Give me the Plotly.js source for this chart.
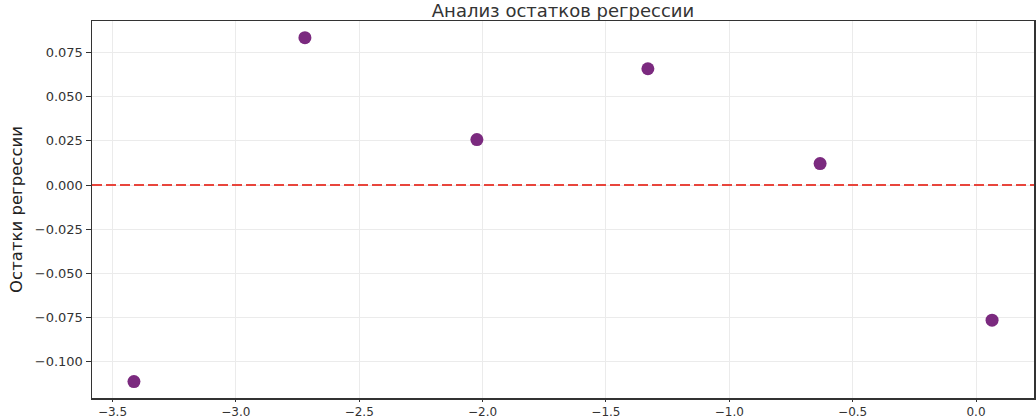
<!DOCTYPE html>
<html>
<head>
<meta charset="utf-8">
<script src="https://cdn.plot.ly/plotly-3.0.1.min.js"></script>
<style>
    html, body { margin: 0; padding: 0; background: #ffffff; }
    #residuals { width: 1036px; height: 418px; }
</style>
</head>
<body>
<div id="residuals"></div>
<script>
// predicted values (x) and regression residuals (y)
var predicted = [ -3.413, -2.720, -2.023, -1.330, -0.632, 0.065 ];
var residuals = [ -0.1111, 0.0833, 0.0257, 0.0657, 0.0121, -0.0764 ];

var x_ticks = [ -3.5, -3.0, -2.5, -2.0, -1.5, -1.0, -0.5, 0.0 ];
var x_tick_labels = [ '\u22123.5', '\u22123.0', '\u22122.5', '\u22122.0', '\u22121.5', '\u22121.0', '\u22120.5', '0.0' ];
var y_ticks = [ -0.100, -0.075, -0.050, -0.025, 0.000, 0.025, 0.050, 0.075 ];
var y_tick_labels = [ '\u22120.100', '\u22120.075', '\u22120.050', '\u22120.025', '0.000', '0.025', '0.050', '0.075' ];

var x_range = [ -3.583, 0.235 ];
var y_range = [ -0.1204, 0.0927 ];

var points =
{
    type: 'scatter',
    mode: 'markers',
    x: predicted,
    y: residuals,
    marker:
    {
        size: 13,
        color: '#7b2a7f',
        line: { width: 0 }
    },
    hoverinfo: 'x+y'
};

// zero line across the whole plot
var zero_line =
{
    type: 'scatter',
    mode: 'lines',
    x: x_range,
    y: [ 0, 0 ],
    line:
    {
        color: '#e8453c',
        width: 2,
        dash: '10px,4px'
    },
    hoverinfo: 'skip'
};

var data = [ points, zero_line ];

var layout =
{
    width: 1036,
    height: 418,
    showlegend: false,
    paper_bgcolor: '#ffffff',
    plot_bgcolor: '#ffffff',
    font: { family: 'DejaVu Sans', color: '#333333', size: 12 },
    margin: { l: 92, r: 2, t: 21, b: 20 },
    title:
    {
        text: 'Анализ остатков регрессии',
        font: { family: 'DejaVu Sans', size: 18, color: '#333333' },
        xref: 'paper',
        x: 0.5,
        xanchor: 'center',
        yref: 'container',
        y: 0.974,
        yanchor: 'middle'
    },
    xaxis:
    {
        range: x_range,
        autorange: false,
        tickmode: 'array',
        tickvals: x_ticks,
        ticktext: x_tick_labels,
        ticks: 'outside',
        ticklen: 2,
        tickcolor: '#333333',
        tickfont: { size: 12, color: '#333333' },
        showgrid: true,
        gridcolor: '#ebebeb',
        gridwidth: 1,
        zeroline: false,
        showline: true,
        linecolor: '#333333',
        linewidth: 1.5,
        mirror: true
    },
    yaxis:
    {
        range: y_range,
        autorange: false,
        tickmode: 'array',
        tickvals: y_ticks,
        ticktext: y_tick_labels,
        ticks: 'outside',
        ticklen: 5,
        tickcolor: '#333333',
        tickfont: { size: 13, color: '#333333' },
        showgrid: true,
        gridcolor: '#ebebeb',
        gridwidth: 1,
        zeroline: false,
        showline: true,
        linecolor: '#333333',
        linewidth: 1.5,
        mirror: true,
        title:
        {
            text: 'Остатки регрессии',
            font: { family: 'DejaVu Sans', size: 16.5, color: '#222222' },
            standoff: 8
        }
    }
};

var config = { responsive: false, displayModeBar: false, staticPlot: true };

Plotly.newPlot( 'residuals', data, layout, config );
</script>
</body>
</html>
